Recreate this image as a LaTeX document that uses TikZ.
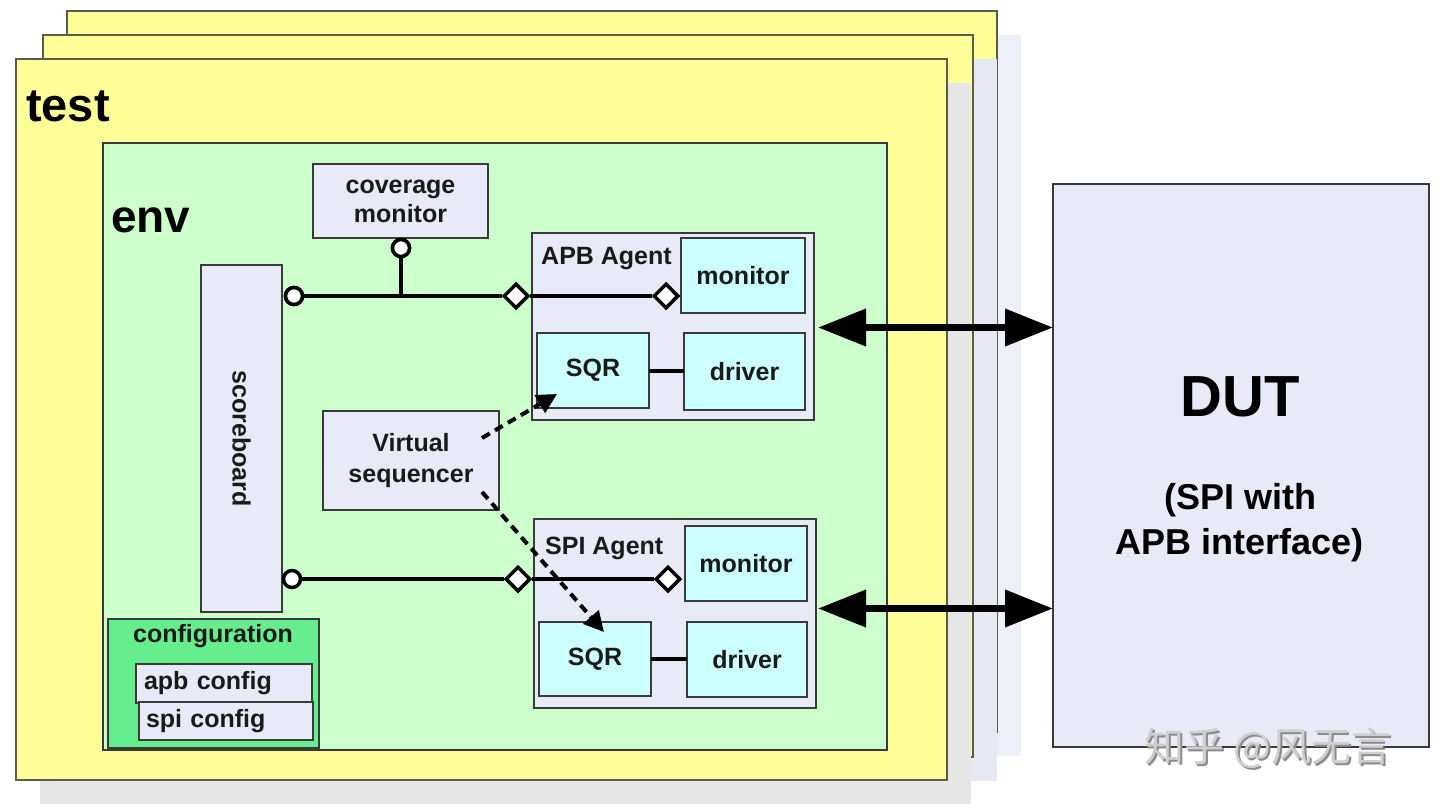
\documentclass[tikz,border=0pt]{standalone}
\usepackage{fontspec}
\setmainfont{Liberation Sans}
\newfontfamily\cjk{Noto Sans CJK SC}
\usetikzlibrary{arrows.meta,calc,shapes.geometric}
\definecolor{testyellow}{HTML}{FFFF99}
\definecolor{envgreen}{HTML}{CCFFCC}
\definecolor{lav}{HTML}{E8EBF7}
\definecolor{cyanbox}{HTML}{CCFFFF}
\definecolor{cfggreen}{HTML}{66EE8E}
\definecolor{shgray}{HTML}{E6E6E6}
\definecolor{shblue}{HTML}{E6E9F4}
\definecolor{shbluelt}{HTML}{EDF0F8}
\definecolor{edge}{HTML}{3A3A3A}
\definecolor{testedge}{HTML}{5C5C48}
\definecolor{ink}{HTML}{1A1A1A}
\definecolor{wmfill}{HTML}{CFCFCF}
\definecolor{wmshade}{HTML}{8C8C8C}
\newcommand\fsz[2]{\fontsize{#1}{#2}\selectfont}
\tikzset{
  testbox/.style={draw=testedge, line width=2.5pt, fill=testyellow},
  blk/.style={draw=edge, line width=2pt, fill=lav, outer sep=0pt, inner sep=0pt,
    anchor=north west, font=\bfseries\fsz{25}{29}, text=ink, align=center},
  cyn/.style={blk, fill=cyanbox},
  lbl/.style={font=\bfseries\fsz{25}{29}, text=ink, inner sep=0pt},
  bigtxt/.style={font=\bfseries\fsz{47}{52}, text=black, inner sep=0pt, anchor=west},
  portline/.style={draw=black, line width=4pt},
  circport/.style={circle, draw=black, line width=3.5pt, fill=white, minimum size=17pt, inner sep=0pt},
  diaport/.style={diamond, aspect=1, draw=black, line width=3.5pt, fill=white, minimum size=25pt, inner sep=0pt},
  dasharrow/.style={draw=black, line width=4pt, dash pattern=on 9pt off 6pt, -{Triangle[length=20pt,width=20pt]}},
  bigarrow/.style={draw=black, line width=7pt, {Triangle[length=48pt,width=36pt]}-{Triangle[length=48pt,width=36pt]}},
}
\begin{document}
\begin{tikzpicture}[x=1pt, y=-1pt]
\useasboundingbox (0,0) rectangle (1440,809);
\fill[white] (0,0) rectangle (1440,809);
% stacked test boxes with shadows
\fill[shbluelt] (91,35) rectangle (1021,756);
\draw[testbox] (67,11) rectangle (997,732);
\fill[shblue] (67,59) rectangle (997,781);
\draw[testbox] (43,35) rectangle (973,757);
\fill[shgray] (40,83) rectangle (971,804);
\node[testbox, anchor=north west, outer sep=0pt, inner sep=0pt, minimum width=931pt, minimum height=721pt] (test) at (16,59) {};
\node[bigtxt] (testlbl) at (26,106) {test};
% env
\node[blk, fill=envgreen, minimum width=784pt, minimum height=607pt] (env) at (103,143) {};
\node[bigtxt, font=\bfseries\fsz{46}{50}] (envlbl) at (111,220) {env};
% coverage monitor
\node[blk, minimum width=175pt, minimum height=74pt] (cov) at (313,164) {coverage\\monitor};
% scoreboard
\node[blk, minimum width=81pt, minimum height=347pt] (sb) at (201,265) {};
\node[lbl, rotate=-90] (sblbl) at (sb.center) {scoreboard};
% APB agent
\node[blk, minimum width=282pt, minimum height=187pt] (aag) at (532,233) {};
\node[lbl, anchor=west] (aaglbl) at (541,259) {APB Agent};
\node[cyn, minimum width=124pt, minimum height=75pt] (amon) at (681,238) {monitor};
\node[cyn, minimum width=112pt, minimum height=75pt] (asqr) at (537,333) {SQR};
\node[cyn, minimum width=121pt, minimum height=77pt] (adrv) at (684,333) {driver};
% virtual sequencer
\node[blk, minimum width=176pt, minimum height=99pt, font=\bfseries\fsz{25}{31}] (vs) at (323,411) {Virtual\\sequencer};
% SPI agent
\node[blk, minimum width=282pt, minimum height=189pt] (sag) at (534,519) {};
\node[lbl, anchor=west] (saglbl) at (545,548) {SPI Agent};
\node[cyn, minimum width=122pt, minimum height=75pt] (smon) at (685,526) {monitor};
\node[cyn, minimum width=112pt, minimum height=74pt] (ssqr) at (539,622) {SQR};
\node[cyn, minimum width=120pt, minimum height=75pt] (sdrv) at (687,622) {driver};
% configuration
\node[blk, fill=cfggreen, minimum width=211pt, minimum height=129pt] (cfg) at (108,619) {};
\node[lbl] (cfglbl) at (213,636) {configuration};
\node[blk, minimum width=176pt, minimum height=39pt, text width=160pt, align=left] (apbcfg) at (136,664) {apb config};
\node[blk, minimum width=174pt, minimum height=38pt, text width=160pt, align=left] (spicfg) at (139,702) {spi config};
% DUT
\node[blk, minimum width=376pt, minimum height=563pt] (dut) at (1053,184) {};
\node[inner sep=0pt, font=\bfseries\fsz{58}{64}, text=black] (dutlbl) at (1240,397) {DUT};
\node[inner sep=0pt, font=\bfseries\fsz{36}{45}, text=black, align=center] (dutsub) at (1240,523) {(SPI with\\APB interface)};
% SQR -- driver
\draw[portline] (asqr.east) -- (asqr.east -| adrv.west);
\draw[portline] (ssqr.east) -- (ssqr.east -| sdrv.west);
% analysis ports, upper
\node[circport] (c1) at (294,296) {};
\node[diaport] (d1) at (516,296) {};
\node[diaport] (d2) at (666,296) {};
\node[circport] (c2) at (401,248) {};
\coordinate (jn) at (401,296);
\draw[portline] (c1.east) -- (d1.west);
\draw[portline] (d1.east) -- (d2.west);
\draw[portline] (c2.south) -- (jn);
\node[circport] at (c1) {};
\node[circport] at (c2) {};
% analysis ports, lower
\node[circport] (c3) at (292,579) {};
\node[diaport] (d3) at (518,579) {};
\node[diaport] (d4) at (668,579) {};
\draw[portline] (c3.east) -- (d3.west);
\draw[portline] (d3.east) -- (d4.west);
% virtual sequencer arrows
\coordinate (vs1) at ($(vs.north east)+(-17,27)$);
\coordinate (vs2) at ($(vs.south east)+(-17,-18)$);
\coordinate (at1) at ($(asqr.south west)+(20,-14)$);
\coordinate (at2) at ($(ssqr.north west)+(65,10)$);
\draw[dasharrow] (vs1) -- (at1);
\draw[dasharrow] (vs2) -- (at2);
% DUT connections
\coordinate (ae) at ($(aag.east)+(4,1)$);
\coordinate (se) at ($(sag.east)+(2,-5)$);
\draw[bigarrow] (ae) -- (ae -| dut.west);
\draw[bigarrow] (se) -- (se -| dut.west);
% watermark
\node[inner sep=0pt, font=\cjk\fsz{40}{44}, text=wmshade] (wmsh) at (1270,750) {知乎 @风无言};
\node[inner sep=0pt, font=\cjk\fsz{40}{44}, text=wmfill] (wm) at (1268,748) {知乎 @风无言};
\end{tikzpicture}
\end{document}
